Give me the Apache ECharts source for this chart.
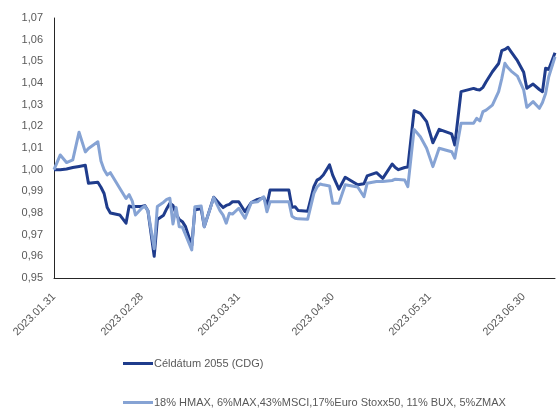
<!DOCTYPE html>
<html>
<head>
<meta charset="utf-8">
<script src="https://cdn.jsdelivr.net/npm/echarts@6/dist/echarts.min.js"></script>
<style>
  html, body { margin: 0; padding: 0; background: #ffffff; }
  #chart { width: 558px; height: 409px; }
</style>
</head>
<body>
<div id="chart"></div>
<script>
// Days elapsed since 2023.01.31 for each observation
const days = [0, 2, 4, 6, 8, 10, 11, 14, 15, 16, 17, 18, 21, 23, 24, 25, 26, 28, 29, 30,
  32, 33, 35, 36, 37, 38, 39, 40, 41, 42, 44, 45, 47, 48, 51, 53, 54, 55, 56, 57,
  59, 61, 63, 65, 67, 68, 69, 75, 76, 77, 78, 81, 83, 84, 85, 86, 88, 89, 91, 93,
  97, 99, 100, 103, 105, 108, 109, 110, 112, 113, 115, 117, 119, 121, 123, 127, 128, 130, 134, 135,
  136, 137, 138, 140, 142, 143, 144, 145, 146, 148, 150, 151, 153, 155, 156, 157, 158, 160];

// Céldátum 2055 (CDG) indexed value
const cdgValues = [1.000, 1.000, 1.0003, 1.001, 1.0015, 1.002, 0.9937, 0.9942, 0.9919, 0.989, 0.9825, 0.980, 0.9791, 0.9753, 0.9832, 0.9828, 0.983, 0.983, 0.9834, 0.981,
  0.960, 0.977, 0.979, 0.982, 0.9845, 0.9835, 0.9795, 0.977, 0.976, 0.9737, 0.965, 0.9815, 0.982, 0.9737, 0.9873, 0.984, 0.9825, 0.9835, 0.984, 0.9852,
  0.9852, 0.9806, 0.9848, 0.9863, 0.9871, 0.9837, 0.9906, 0.9906, 0.9826, 0.9829, 0.9811, 0.9808, 0.9922, 0.9952, 0.996, 0.9975, 1.0022, 0.9975, 0.991, 0.9965,
  0.993, 0.9935, 0.9971, 0.9986, 0.996, 1.0026, 1.001, 1.000, 1.001, 1.0012, 1.0272, 1.026, 1.0222, 1.0124, 1.0186, 1.0165, 1.0114, 1.036, 1.0375, 1.037,
  1.0368, 1.038, 1.0406, 1.0452, 1.049, 1.0549, 1.0555, 1.0565, 1.0544, 1.0503, 1.045, 1.0376, 1.0395, 1.037, 1.036, 1.0468, 1.0463, 1.054];

// Benchmark portfolio indexed value
const benchValues = [1.000, 1.0068, 1.0033, 1.0045, 1.0173, 1.0082, 1.0098, 1.0129, 1.004, 1.000, 0.9976, 0.9986, 0.9914, 0.9867, 0.9885, 0.9855, 0.9791, 0.9822, 0.9832, 0.981,
  0.9635, 0.983, 0.985, 0.9863, 0.9868, 0.9749, 0.9826, 0.9737, 0.9735, 0.970, 0.963, 0.9829, 0.9832, 0.9737, 0.9871, 0.9811, 0.979, 0.9753, 0.9799, 0.9795,
  0.9822, 0.9776, 0.9848, 0.9852, 0.9875, 0.9806, 0.9852, 0.9852, 0.9785, 0.9776, 0.9773, 0.9771, 0.9891, 0.992, 0.9934, 0.993, 0.9925, 0.9845, 0.9845, 0.993,
  0.992, 0.9875, 0.9937, 0.9945, 0.9945, 0.995, 0.9956, 0.9955, 0.9952, 0.9922, 1.0186, 1.0152, 1.0099, 1.0014, 1.0099, 1.0083, 1.0053, 1.0214, 1.0214, 1.0237,
  1.0225, 1.0268, 1.0275, 1.0298, 1.036, 1.042, 1.0491, 1.047, 1.0455, 1.0432, 1.0368, 1.0288, 1.0314, 1.0283, 1.031, 1.0352, 1.0429, 1.0521];

// Month-end ticks on the date axis
const tickDays = [0, 28, 59, 89, 120, 150];
const tickLabels = ['2023.01.31', '2023.02.28', '2023.03.31', '2023.04.30', '2023.05.31', '2023.06.30'];

const seriesNames = ['Céldátum 2055 (CDG)', '18% HMAX, 6%MAX,43%MSCI,17%Euro Stoxx50, 11% BUX, 5%ZMAX'];

const FONT = '"Liberation Sans", Arial, sans-serif';
const TEXT_GREY = '#595959';

const pairs = (vals) => days.map((d, i) => [d, vals[i]]);

// One legend block per series, stacked beneath the axis
const legendBlock = (name, top) => ({
  left: 118,
  top: top,
  itemWidth: 30,
  itemHeight: 3,
  icon: 'rect',
  textStyle: { color: TEXT_GREY, fontSize: 11, fontFamily: FONT, padding: [0, 0, 0, -4] },
  data: [name]
});

const chart = echarts.init(document.getElementById('chart'), null, { renderer: 'canvas' });
chart.setOption({
  animation: false,
  backgroundColor: '#ffffff',
  textStyle: { fontFamily: FONT },
  grid: { left: 54, right: 3, top: 18, bottom: 131, containLabel: false },
  legend: [legendBlock(seriesNames[0], 353), legendBlock(seriesNames[1], 392)],
  xAxis: {
    type: 'value',
    min: 0,
    max: 160,
    axisLine: { show: true, lineStyle: { color: '#262626', width: 1 } },
    axisTick: { show: false },
    splitLine: { show: false },
    axisLabel: {
      customValues: tickDays,
      rotate: 45,
      margin: 17,
      color: TEXT_GREY,
      fontSize: 11,
      fontFamily: FONT,
      formatter: (v) => {
        const k = tickDays.indexOf(Math.round(v));
        return k >= 0 ? tickLabels[k] : '';
      }
    }
  },
  yAxis: {
    type: 'value',
    min: 0.95,
    max: 1.07,
    interval: 0.01,
    axisLine: { show: true, lineStyle: { color: '#262626', width: 1 } },
    axisTick: { show: false },
    splitLine: { show: false },
    axisLabel: {
      margin: 11,
      color: TEXT_GREY,
      fontSize: 11,
      fontFamily: FONT,
      formatter: (v) => v.toFixed(2).replace('.', ',')
    }
  },
  series: [
    {
      name: seriesNames[0],
      type: 'line',
      data: pairs(cdgValues),
      showSymbol: false,
      symbol: 'none',
      color: '#1F3C8C',
      lineStyle: { width: 3, color: '#1F3C8C', join: 'round' }
    },
    {
      name: seriesNames[1],
      type: 'line',
      data: pairs(benchValues),
      showSymbol: false,
      symbol: 'none',
      color: '#86A3D4',
      lineStyle: { width: 3, color: '#86A3D4', join: 'round' }
    }
  ]
});
</script>
</body>
</html>
